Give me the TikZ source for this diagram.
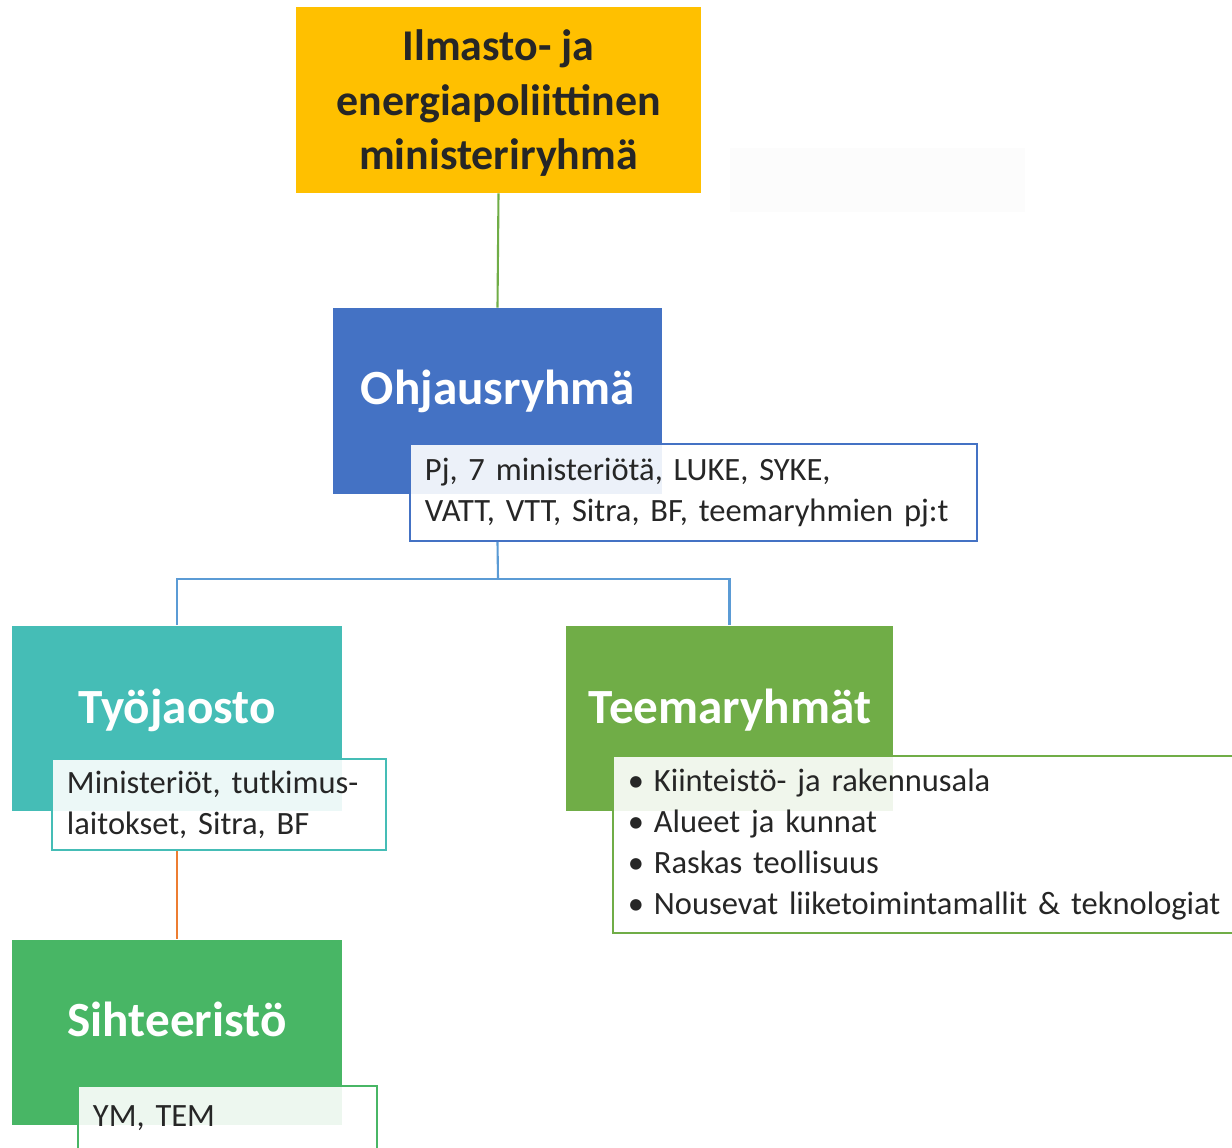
\documentclass[tikz,border=0pt]{standalone}
\usepackage{fontspec}
\setmainfont{Carlito}
\usetikzlibrary{positioning}
\definecolor{cYellow}{HTML}{FFC000}
\definecolor{cBlue}{HTML}{4472C4}
\definecolor{cTeal}{HTML}{45BDB6}
\definecolor{cGreen}{HTML}{48B665}
\definecolor{cLeaf}{HTML}{70AD47}
\definecolor{cLink}{HTML}{5B9BD5}
\definecolor{cOrange}{HTML}{ED7D31}
\frenchspacing
\begin{document}
\begin{tikzpicture}[x=0.02cm, y=-0.02cm,
	hbox/.style={rectangle, minimum width=6.6cm, minimum height=3.72cm, inner sep=0pt},
	htext/.style={anchor=base, text=white, font=\bfseries\fontsize{28}{34}\selectfont},
	infobox/.style={draw=#1, line width=1.1pt, fill=white, fill opacity=0.9, text opacity=1,
		text=black!85, font=\fontsize{18.5}{23.3}\selectfont, align=left,
		inner xsep=0.3cm, inner ysep=0pt, anchor=north west},
	link/.style={draw=#1, line width=1.2pt}]
\clip (0,0) rectangle (1232,1148);
% top level
\node[hbox, fill=cYellow, minimum width=8.1cm, text=black!85, align=center, text depth=0pt,
	font=\bfseries\fontsize{25}{31}\selectfont] (ministerit) at (498.5,100)
	{Ilmasto- ja\\energiapoliittinen\\ministeriryhmä};
\node[fill=black!1, minimum width=5.9cm, minimum height=1.28cm, inner sep=0pt] (blank) at (877.5,180) {};
% steering group
\node[hbox, fill=cBlue, minimum width=6.58cm] (ohj) at (497.5,401) {};
\node[htext] (ohjT) at (498,405) {Ohjausryhmä};
\node[infobox=cBlue, text width=10.74cm, minimum height=1.94cm] (ohjInfo) at (409,443)
	{Pj, 7 ministeriötä, LUKE, SYKE,\\VATT, VTT, Sitra, BF, teemaryhmien pj:t};
% working groups
\node[hbox, fill=cTeal] (tyo) at (177,718.5) {};
\node[htext] (tyoT) at (177,724) {Työjaosto};
\node[infobox=cTeal, text width=6.08cm, minimum height=1.82cm] (tyoInfo) at (51,758)
	{Ministeriöt, tutkimus-\\laitokset, Sitra, BF};
\node[hbox, fill=cLeaf, minimum width=6.54cm] (tee) at (729.5,718.5) {};
\node[htext] (teeT) at (730,724) {Teemaryhmät};
\node[infobox=cLeaf, text width=12.96cm, minimum height=3.54cm] (teeInfo) at (612,755)
	{\textbullet\hskip0.3em Kiinteistö- ja rakennusala\\\textbullet\hskip0.3em Alueet ja kunnat\\
	 \textbullet\hskip0.3em Raskas teollisuus\\\textbullet\hskip0.3em Nousevat liiketoimintamallit \& teknologiat};
% secretariat
\node[hbox, fill=cGreen] (sih) at (177,1032.5) {};
\node[htext] (sihT) at (177,1037) {Sihteeristö};
\node[infobox=cGreen, text width=5.38cm, text height=0.82cm, text depth=1cm] (sihInfo) at (77,1085)
	{YM, TEM};
% connectors
\coordinate (split) at (498,579);
\draw[link=cLeaf] (ministerit.south) -- (ohj.north);
\draw[link=cLink] (ohj |- ohjInfo.south) -- (split);
\draw[link=cLink] (tyo.north) |- (split) -| (tee.north);
\draw[link=cOrange] (tyo |- tyoInfo.south) -- (sih.north);
\end{tikzpicture}
\end{document}
